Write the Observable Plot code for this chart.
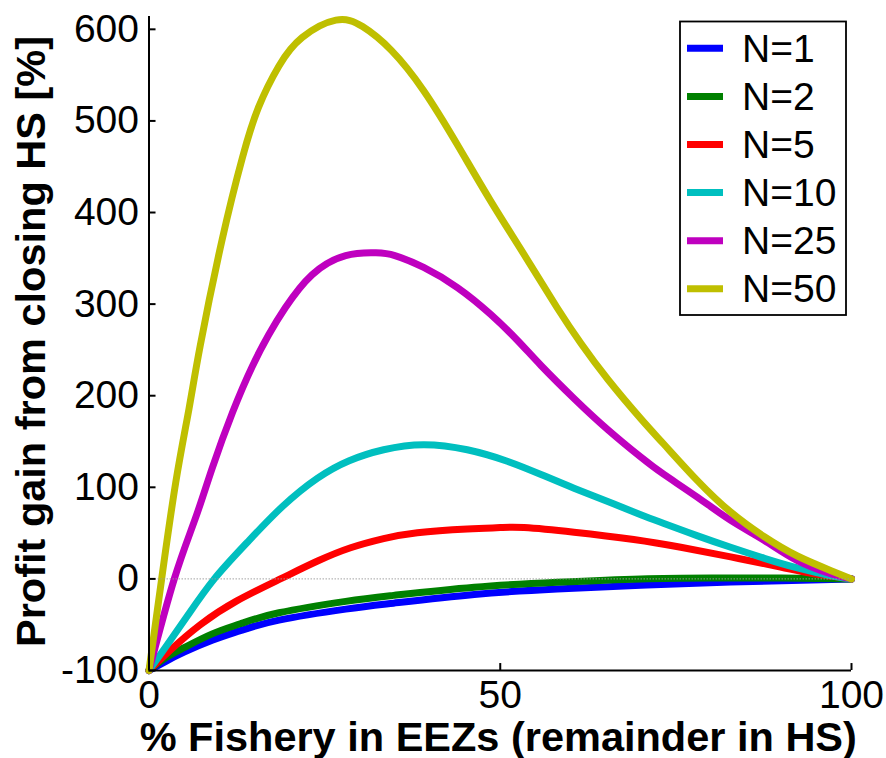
<!DOCTYPE html>
<html><head><meta charset="utf-8">
<script src="https://cdn.jsdelivr.net/npm/d3@7"></script>
<script src="https://cdn.jsdelivr.net/npm/@observablehq/plot@0.6"></script>
<style>body{margin:0;background:#fff;}</style>
</head><body><div id="chart"></div>
<script>
const seriesNames = ["N=1", "N=2", "N=5", "N=10", "N=25", "N=50"];
const seriesColors = ["#0000ff", "#008000", "#ff0000", "#00bfbf", "#bf00bf", "#bfbf00"];

const xN1 = [0, 2.4, 5, 9, 13, 18.5, 28, 34.8, 46.3, 58.1, 70, 82.8, 100];
const yN1 = [-100, -90, -80, -67, -56.5, -45, -33, -26.5, -17, -11, -7, -3.5, 0];

const xN2 = [0, 2.4, 5, 9, 13, 18.5, 28, 34.8, 46.3, 58.1, 70, 80, 90, 100];
const yN2 = [-100, -86, -75, -60, -49, -37, -24.5, -18, -9, -3.6, 0, 1, 1, 0];

const xN5 = [0, 3, 7.3, 12.5, 18.7, 24, 28.7, 33.4, 38.2, 45.3, 50, 53.4, 60.5, 69, 75.7, 82.8, 89.9, 94.7, 100];
const yN5 = [-100, -78, -50, -24, 0, 19.5, 34, 44, 50.5, 54.5, 56, 56, 51, 43, 34.5, 24, 13, 5.5, 0];

const xN10 = [0, 2.5, 5.5, 9.3, 14, 19, 24, 28.5, 33.4, 39.1, 45.3, 51, 55.8, 60.5, 65.3, 70, 73.3, 78.1, 82.8, 87.6, 92.3, 97.1, 100];
const yN10 = [-100, -73, -40, 0, 40, 79, 110, 129, 141, 146.5, 141, 128.5, 114, 99, 84.5, 70, 60.5, 47, 34.5, 22.5, 12, 3.5, 0];

const xN25 = [0, 3.6, 6.6, 9, 11.9, 14.7, 17, 19.4, 23.2, 28, 32.3, 35, 39.1, 43.9, 48.6, 52.5, 55.8, 60.5, 65.3, 70, 73.3, 78.1, 82.8, 87.6, 92.3, 97.1, 100];
const yN25 = [-100, 0, 66, 121, 182, 232, 266, 296, 332, 353, 356, 353, 340, 318, 289, 260, 233, 197, 163, 133, 114, 89, 64, 42, 20, 5.5, 0];

const xN50 = [0, 1.8, 3.8, 5.7, 7.3, 10.4, 13.3, 15.6, 18.5, 21.8, 26.6, 30.4, 34.5, 39.1, 43.9, 48.6, 53.4, 58.1, 61.5, 65.3, 70, 73.3, 78.1, 82.8, 87.6, 92.3, 97.1, 100];
const yN50 = [-100, 0, 105, 186, 255, 370, 460, 515, 560, 591, 610, 603, 577, 533, 474, 413, 354, 296, 257, 218, 175, 147, 107, 73, 46, 25, 9, 0];

const xTicks = [0, 50, 100];
const yTicks = [-100, 0, 100, 200, 300, 400, 500, 600];
const xLabel = "% Fishery in EEZs (remainder in HS)";
const yLabel = "Profit gain from closing HS [%]";

const xs = [xN1, xN2, xN5, xN10, xN25, xN50];
const ys = [yN1, yN2, yN5, yN10, yN25, yN50];
const rows = [];
seriesNames.forEach((s, i) => xs[i].forEach((x, j) => rows.push({series: s, x, y: ys[i][j]})));

const font = "'Liberation Sans', Arial, Helvetica, sans-serif";

const svg = Plot.plot({
  width: 886,
  height: 758,
  marginLeft: 148.5,
  marginRight: 35,
  marginTop: 16,
  marginBottom: 88,
  x: {domain: [0, 100]},
  y: {domain: [-100, 614]},
  color: {domain: seriesNames, range: seriesColors},
  style: {fontFamily: font, background: "#fff", color: "#000", overflow: "visible"},
  marks: [
    Plot.line(rows, {x: "x", y: "y", z: "series", stroke: "series", strokeWidth: 7, curve: "natural", strokeLinejoin: "round"}),
    Plot.ruleY([0], {x1: 0, x2: 100, stroke: "#9a9a9a", strokeWidth: 1, strokeDasharray: "1.5,1.5", strokeOpacity: 0.9}),
    Plot.ruleX([0], {stroke: "#000", strokeWidth: 2}),
    Plot.ruleY([-100], {stroke: "#000", strokeWidth: 2}),
    Plot.ruleY(yTicks, {x1: 0, x2: 1, stroke: "#000", strokeWidth: 2}),
    Plot.ruleX(xTicks, {y1: -100, y2: -92.4, stroke: "#000", strokeWidth: 2}),
    Plot.axisY(yTicks, {tickSize: 0, tickPadding: 10, fontSize: 39, label: null, tickFormat: d => String(d)}),
    Plot.axisX(xTicks, {tickSize: 0, tickPadding: 10, fontSize: 39, label: null, tickFormat: d => String(d)}),
    Plot.text([xLabel], {text: d => d, frameAnchor: "bottom", dx: -2, dy: 80, lineAnchor: "bottom", textAnchor: "middle", fontSize: 41.5, fontWeight: "bold", fill: "#000"}),
    Plot.text([yLabel], {text: d => d, frameAnchor: "left", rotate: -90, dx: -104.5, dy: -2, lineAnchor: "bottom", textAnchor: "middle", fontSize: 41.5, fontWeight: "bold", fill: "#000"})
  ]
});

// Legend (inside the plot, top right)
const lg = d3.select(svg).append("g").attr("font-family", font).attr("text-anchor", "start");
lg.append("rect").attr("x", 680).attr("y", 21.5).attr("width", 166).attr("height", 293.5)
  .attr("fill", "#fff").attr("stroke", "#000").attr("stroke-width", 1.8);
seriesNames.forEach((s, i) => {
  const cy = 48.3 + i * 48.1;
  lg.append("line").attr("x1", 687).attr("x2", 723).attr("y1", cy).attr("y2", cy)
    .attr("stroke", seriesColors[i]).attr("stroke-width", 7);
  lg.append("text").attr("x", 742).attr("y", cy).attr("dy", "0.35em")
    .attr("text-anchor", "start").attr("font-size", 39).attr("fill", "#000").text(s);
});

document.getElementById("chart").appendChild(svg);
</script>
</body></html>
